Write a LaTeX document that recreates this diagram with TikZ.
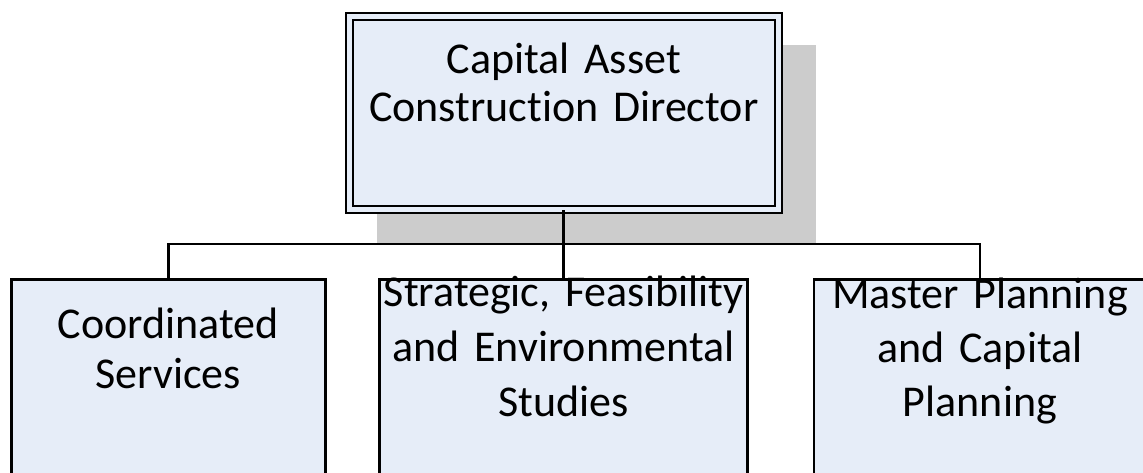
\documentclass[tikz,border=0pt]{standalone}
\usepackage{fontspec}
\usepackage{tikz}
\usetikzlibrary{positioning,backgrounds}
\newfontfamily\boxfont[Ligatures=NoCommon]{Carlito}
\definecolor{PaleBlue}{HTML}{E6EDF8}
\definecolor{ShadowGray}{HTML}{CCCCCC}
\tikzset{
  unitbox/.style={draw=black, line width=1.3pt, fill=PaleBlue, align=center, inner sep=0pt, anchor=north, font=\boxfont\fontsize{22pt}{#1}\selectfont},
  headbox/.style={unitbox=#1, line width=1pt, double=PaleBlue, double distance=2.5pt},
  link/.style={line width=1.3pt, draw=black}
}
\begin{document}
\begin{tikzpicture}[x=0.5pt, y=-0.5pt]
  \path[use as bounding box, clip] (0,0) rectangle (1143,472);

  \node[headbox=24pt, text width=214.25pt, text height=28.6pt, text depth=67.65pt] (director) at (563.75,15.5) {Capital Asset\\Construction Director};

  \node[unitbox=25pt, text width=157pt, text height=29.35pt, text depth=82pt] (coord) at (168.3,278) {Coordinated\\Services};
  \node[unitbox=27.5pt, text width=183.8pt, text height=13.5pt, text depth=98pt] (studies) at (563.5,278) {Strategic, Feasibility\\and Environmental\\Studies};
  \node[unitbox=27pt, text width=166pt, text height=14.35pt, text depth=98pt] (planning) at (980,278) {Master Planning\\and Capital\\Planning};

  \begin{scope}[on background layer]
    \fill[ShadowGray] ([shift={(14.25pt,-17.5pt)}]director.south west) rectangle ([shift={(18.5pt,-14.75pt)}]director.north east);
  \end{scope}

  \coordinate (bus) at (0,244);
  \draw[link] (director.south) -- (director.south |- bus);
  \draw[link] (coord.north) -- (coord.north |- bus) -- (planning.north |- bus) -- (planning.north);
  \draw[link] (studies.north) -- (studies.north |- bus);
\end{tikzpicture}
\end{document}
